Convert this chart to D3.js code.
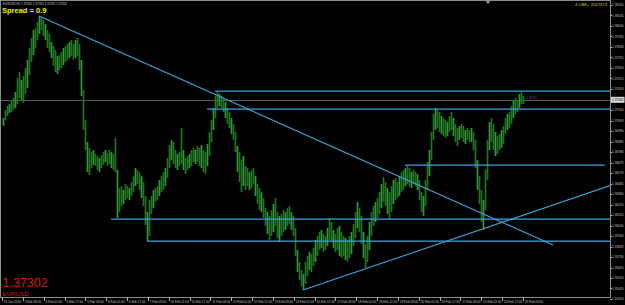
<!DOCTYPE html>
<html lang="en">
<head>
<meta charset="utf-8">
<script src="https://d3js.org/d3.v7.min.js"></script>
<style>
  body { margin: 0; background: #000; }
  svg { display: block; }
  text { font-family: "Liberation Sans", Arial, sans-serif; }
</style>
</head>
<body>
<svg></svg>
<script>
// EURUSD,H1 - bar highs / lows (one bar per slot)
const highs = [
  1.3712,1.3720,1.3724,1.3726,1.3730,1.3732,1.3738,1.3752,1.3758,1.3750,1.3754,1.3762,
  1.3770,1.3782,1.3792,1.3800,1.3802,1.3808,1.3814,1.3812,1.3810,1.3806,1.3800,1.3796,1.3788,1.3784,1.3780,
  1.3774,1.3775,1.3778,1.3782,1.3784,1.3786,1.3788,1.3790,1.3786,1.3790,1.3792,1.3786,1.3770,1.3740,1.3710,
  1.3688,1.3682,1.3678,1.3680,1.3676,1.3674,1.3672,1.3675,1.3678,1.3680,1.3677,1.3680,1.3678,1.3676,1.3692,
  1.3660,1.3642,1.3644,1.3640,1.3646,1.3644,1.3642,1.3648,1.3654,1.3662,1.3660,1.3658,1.3654,1.3648,1.3634,
  1.3618,1.3630,1.3634,1.3640,
  1.3642,1.3644,1.3650,1.3654,1.3658,1.3662,1.3672,1.3685,1.3690,1.3688,1.3680,1.3676,1.3678,1.3702,1.3680,
  1.3672,1.3674,1.3676,1.3680,1.3682,1.3680,1.3684,1.3682,1.3685,1.3680,1.3678,1.3686,1.3698,1.3710,1.3722,
  1.3734,1.3738,
  1.3736,1.3734,1.3732,1.3728,1.3722,1.3718,1.3712,1.3706,1.3698,1.3684,1.3678,1.3670,1.3674,1.3664,1.3662,
  1.3658,1.3660,1.3662,1.3654,1.3646,1.3642,1.3638,1.3632,1.3622,1.3618,1.3614,1.3620,1.3626,1.3632,1.3618,
  1.3614,1.3616,1.3620,1.3618,1.3622,1.3624,1.3618,1.3614,1.3602,1.3580,1.3568,1.3560,1.3556,
  1.3568,1.3574,1.3578,1.3576,1.3582,1.3590,1.3594,1.3598,1.3600,1.3596,1.3594,1.3602,1.3612,1.3608,1.3600,
  1.3596,1.3602,1.3604,1.3598,1.3594,1.3592,1.3590,1.3594,1.3598,1.3606,1.3618,1.3628,1.3622,1.3614,1.3598,
  1.3586,1.3594,1.3608,1.3618,1.3624,1.3628,1.3632,1.3638,1.3646,1.3653,1.3648,1.3642,1.3638,1.3644,1.3650,
  1.3652,1.3648,1.3654,
  1.3658,1.3660,1.3662,1.3665,1.3662,1.3658,1.3660,1.3658,1.3656,1.3650,1.3638,1.3634,1.3650,1.3668,1.3680,
  1.3698,1.3716,1.3722,1.3720,1.3718,1.3714,1.3712,1.3710,1.3708,1.3714,1.3718,1.3712,1.3706,1.3702,1.3704,
  1.3706,1.3704,1.3700,1.3702,1.3700,1.3702,1.3698,1.3690,1.3670,1.3654,1.3640,1.3630,1.3660,1.3690,1.3708,
  1.3712,1.3706,1.3698,1.3694,1.3696,1.3700,1.3704,1.3712,1.3716,1.3718,1.3724,1.3730,1.3732,1.3730,1.3736,
  1.3738,1.3734
];
const lows = [
  1.3704,1.3710,1.3714,1.3717,1.3718,1.3720,1.3722,1.3726,1.3732,1.3730,1.3727,1.3736,
  1.3742,1.3755,1.3768,1.3775,1.3782,1.3790,1.3796,1.3800,1.3794,1.3790,1.3782,1.3778,1.3772,1.3764,1.3758,
  1.3756,1.3760,1.3762,1.3765,1.3768,1.3770,1.3772,1.3774,1.3770,1.3772,1.3774,1.3760,1.3734,1.3700,1.3680,
  1.3658,1.3655,1.3662,1.3665,1.3664,1.3660,1.3658,1.3662,1.3665,1.3668,1.3664,1.3666,1.3662,1.3660,1.3658,
  1.3612,1.3618,1.3624,1.3626,1.3630,1.3632,1.3630,1.3634,1.3638,1.3644,1.3646,1.3640,1.3632,1.3624,1.3605,
  1.3589,1.3594,1.3616,1.3622,
  1.3628,1.3630,1.3634,1.3638,1.3640,1.3644,1.3652,1.3662,1.3670,1.3666,1.3662,1.3660,1.3664,1.3666,1.3660,
  1.3656,1.3660,1.3662,1.3664,1.3668,1.3666,1.3668,1.3664,1.3662,1.3658,1.3656,1.3664,1.3674,1.3688,1.3700,
  1.3712,1.3722,
  1.3724,1.3722,1.3718,1.3712,1.3706,1.3702,1.3696,1.3690,1.3678,1.3658,1.3648,1.3638,1.3644,1.3640,1.3644,
  1.3640,1.3642,1.3646,1.3634,1.3626,1.3620,1.3618,1.3612,1.3604,1.3596,1.3590,1.3594,1.3598,1.3604,1.3592,
  1.3588,1.3594,1.3598,1.3600,1.3604,1.3606,1.3600,1.3594,1.3574,1.3558,1.3550,1.3544,1.3540,
  1.3546,1.3554,1.3560,1.3558,1.3564,1.3568,1.3574,1.3580,1.3582,1.3578,1.3580,1.3584,1.3590,1.3588,1.3582,
  1.3578,1.3580,1.3574,1.3572,1.3574,1.3570,1.3568,1.3572,1.3576,1.3584,1.3592,1.3602,1.3598,1.3586,1.3572,
  1.3562,1.3568,1.3580,1.3594,1.3604,1.3608,1.3612,1.3616,1.3622,1.3628,1.3624,1.3616,1.3610,1.3618,1.3626,
  1.3630,1.3632,1.3634,
  1.3638,1.3640,1.3644,1.3646,1.3644,1.3642,1.3646,1.3644,1.3640,1.3630,1.3618,1.3614,1.3624,1.3640,1.3654,
  1.3670,1.3690,1.3700,1.3702,1.3698,1.3696,1.3694,1.3692,1.3694,1.3698,1.3700,1.3694,1.3688,1.3684,1.3690,
  1.3692,1.3688,1.3686,1.3690,1.3688,1.3688,1.3680,1.3662,1.3640,1.3626,1.3608,1.3600,1.3620,1.3650,1.3680,
  1.3688,1.3680,1.3674,1.3676,1.3680,1.3682,1.3686,1.3696,1.3700,1.3702,1.3706,1.3712,1.3716,1.3718,1.3722,
  1.3726,1.3726
];

const lastPrice = 1.37302;
const headerText = "EURUSD,H1  1.37301 1.37335 1.37281 1.37302";

// price scale labels (right)
const priceTicks = [
  1.38250,1.38145,1.38040,1.37935,1.37830,1.37725,1.37620,1.37515,1.37410,1.37305,
  1.37200,1.37095,1.36990,1.36885,1.36780,1.36675,1.36570,1.36465,1.36360,1.36255,
  1.36150,1.36045,1.35940,1.35835,1.35730,1.35625,1.35520,1.35415,1.35310
];
// time scale labels (bottom)
const timeLabels = [
  "31 Jan 2014","3 Feb 09:00","4 Feb 01:00","4 Feb 17:00","5 Feb 09:00","6 Feb 01:00",
  "6 Feb 17:00","7 Feb 09:00","10 Feb 01:00","10 Feb 17:00","11 Feb 09:00","12 Feb 01:00",
  "12 Feb 17:00","13 Feb 09:00","14 Feb 01:00","14 Feb 17:00","17 Feb 09:00","18 Feb 01:00",
  "18 Feb 17:00","19 Feb 09:00","20 Feb 01:00","20 Feb 17:00","21 Feb 09:00","24 Feb 01:00",
  "24 Feb 17:00","25 Feb 09:00"
];

// horizontal levels: price, first bar, last bar (null = runs to right edge)
const levelPrices = [1.3739, 1.3721, 1.3665, 1.3611, 1.3589];
const levelStart  = [106, 102, 201, 54, 72];
const levelEnd    = [null, null, 301, null, null];

// trend lines: [bar, price] -> [bar, price], ray or not
const trendFrom = [[18, 1.3814], [150, 1.3540]];
const trendTo   = [[275, 1.3585], [300, 1.3642]];
const trendRay  = [false, true];

const width = 625, height = 305;
const plotL = 1, plotR = 610, plotT = 1, plotB = 297;

const svg = d3.select("svg").attr("width", width).attr("height", height);
svg.append("rect").attr("width", width).attr("height", height).attr("fill", "#000");

const x = d3.scaleLinear().domain([0, highs.length - 1]).range([3, 523]);
const y = d3.scaleLinear().domain([1.3533, 1.3825]).range([plotB, 5]);

svg.append("clipPath").attr("id", "plot")
  .append("rect").attr("x", plotL).attr("y", plotT)
  .attr("width", plotR - plotL).attr("height", plotB - plotT);

const g = svg.append("g").attr("clip-path", "url(#plot)");

// current price line
g.append("line")
  .attr("x1", plotL).attr("x2", plotR)
  .attr("y1", Math.round(y(lastPrice)) + 0.5).attr("y2", Math.round(y(lastPrice)) + 0.5)
  .attr("stroke", "#5c5c5c").attr("stroke-width", 1);

// bars
g.append("g").selectAll("line")
  .data(highs)
  .enter().append("line")
  .attr("x1", (d, i) => x(i) + 0.5).attr("x2", (d, i) => x(i) + 0.5)
  .attr("y1", d => y(d))
  .attr("y2", (d, i) => y(lows[i]))
  .attr("stroke", (d, i) => i % 3 == 0 ? "#33983a" : "#217421")
  .attr("stroke-width", 1.7);

// levels
const lineColor = "#3ba3dc";
const rightIdx = x.invert(plotR);
g.append("g").selectAll("line")
  .data(levelPrices)
  .enter().append("line")
  .attr("x1", (d, i) => x(levelStart[i]))
  .attr("x2", (d, i) => x(levelEnd[i] == null ? rightIdx : levelEnd[i]))
  .attr("y1", d => Math.round(y(d)) + 0.2)
  .attr("y2", d => Math.round(y(d)) + 0.2)
  .attr("stroke", "#3aa2dc").attr("stroke-width", 1.2);

// trend lines
g.append("g").selectAll("line")
  .data(trendFrom)
  .enter().append("line")
  .attr("x1", d => x(d[0])).attr("y1", d => y(d[1]))
  .attr("x2", (d, i) => x(trendRay[i] ? rightIdx : trendTo[i][0]))
  .attr("y2", (d, i) => {
    let t = trendTo[i];
    if (!trendRay[i]) return y(t[1]);
    let slope = (t[1] - d[1]) / (t[0] - d[0]);
    return y(d[1] + slope * (rightIdx - d[0]));
  })
  .attr("stroke", lineColor).attr("stroke-width", 1.1);

// small purple tag near last bar
g.append("text")
  .attr("x", x(highs.length - 1) + 3).attr("y", y(lastPrice) - 0.5)
  .attr("font-size", 3.5).attr("fill", "#8a3f8a")
  .text(d3.format(".4f")(lastPrice));

// frame
svg.append("rect")
  .attr("x", plotL - 0.5).attr("y", plotT - 0.5)
  .attr("width", plotR - plotL + 1).attr("height", plotB - plotT + 1)
  .attr("fill", "none").attr("stroke", "#8c8c8c").attr("stroke-width", 1);

// right price axis
const yAxis = svg.append("g");
yAxis.selectAll("line")
  .data(priceTicks)
  .enter().append("line")
  .attr("x1", plotR).attr("x2", plotR + 2)
  .attr("y1", d => Math.round(y(d)) + 0.5).attr("y2", d => Math.round(y(d)) + 0.5)
  .attr("stroke", "#b0b0b0");
yAxis.selectAll("text")
  .data(priceTicks)
  .enter().append("text")
  .attr("x", plotR + 2).attr("y", d => y(d)).attr("dy", "0.35em")
  .attr("font-size", 3.2).attr("fill", "#c4c4c4")
  .text(d => d3.format(".5f")(d));

// current price box
svg.append("rect")
  .attr("x", plotR + 1).attr("y", y(lastPrice) - 3)
  .attr("width", width - plotR - 1.5).attr("height", 6)
  .attr("fill", "#d8d8d8");
svg.append("text")
  .attr("x", plotR + 2).attr("y", y(lastPrice)).attr("dy", "0.35em")
  .attr("font-size", 3.2).attr("fill", "#000")
  .text(d3.format(".5f")(lastPrice));

// bottom time axis
const tx = d3.scaleLinear().domain([0, timeLabels.length - 1]).range([2, 523]);
const xAxis = svg.append("g");
xAxis.selectAll("line")
  .data(timeLabels)
  .enter().append("line")
  .attr("x1", (d, i) => Math.round(tx(i)) + 0.5).attr("x2", (d, i) => Math.round(tx(i)) + 0.5)
  .attr("y1", plotB).attr("y2", plotB + 4)
  .attr("stroke", "#b0b0b0");
xAxis.selectAll("text")
  .data(timeLabels)
  .enter().append("text")
  .attr("x", (d, i) => tx(i) + 1.8).attr("y", plotB + 5.5)
  .attr("font-size", 3.1).attr("fill", "#c4c4c4")
  .text(d => d);

// shift marker
svg.append("path")
  .attr("d", d3.symbol(d3.symbolTriangle, 6)())
  .attr("transform", "translate(488,2) rotate(180)")
  .attr("fill", "#aaaaaa");

// texts
svg.append("text").attr("x", 3).attr("y", 4.8)
  .attr("font-size", 3.8).attr("fill", "#c4c4c4")
  .attr("textLength", 64).attr("lengthAdjust", "spacingAndGlyphs")
  .text(headerText);
svg.append("text").attr("x", 2).attr("y", 12.5)
  .attr("font-size", 7.5).attr("font-weight", "bold").attr("fill", "#f0f000")
  .text("Spread = 0.9");
svg.append("text").attr("x", 607).attr("y", 6).attr("text-anchor", "end")
  .attr("font-size", 4.2).attr("fill", "#c8c860").text("4.OBF+ 2047473");
svg.append("text").attr("x", 2.5).attr("y", 287)
  .attr("font-size", 12.5).attr("fill", "#d41a1a")
  .text(d3.format(".5f")(lastPrice));
svg.append("text").attr("x", 2.5).attr("y", 296)
  .attr("font-size", 6.2).attr("fill", "#d41a1a").text("EURUSD");
</script>
</body>
</html>
